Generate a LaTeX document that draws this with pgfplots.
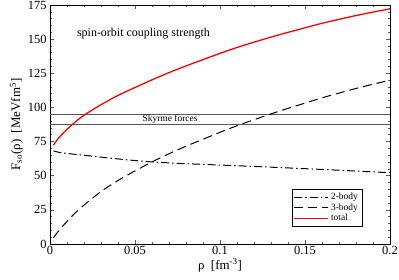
\documentclass[border=0pt]{standalone}
\usepackage{fontspec}
\setmainfont{Liberation Serif}
\usepackage{pgfplots}
\pgfplotsset{compat=1.18}
\pgfplotstableread{
x y
0.002 68.2
0.005 67.2
0.01 66.3
0.02 65.0
0.03 63.6
0.04 62.3
0.05 61.1
0.06 60.1
0.07 59.4
0.08 58.8
0.09 58.3
0.10 57.8
0.12 56.8
0.14 55.7
0.16 54.6
0.18 53.4
0.20 52.2
}\twobody
\pgfplotstableread{
x y
0.002 4.5
0.005 9.5
0.01 16.5
0.015 23
0.02 28.5
0.03 38.4
0.04 46.5
0.05 53.5
0.06 60.1
0.07 66.1
0.08 71.6
0.09 76.7
0.10 81.8
0.11 86.6
0.12 91
0.13 95.25
0.14 99.3
0.15 103.15
0.16 107
0.17 110.5
0.18 113.9
0.19 117
0.20 120
}\threebody
\pgfplotstableread{
x y
0.002 72.4
0.005 77.5
0.01 84
0.015 89.5
0.02 94.3
0.03 102
0.04 108.8
0.05 114.6
0.06 120.2
0.07 125.5
0.08 130.4
0.09 135
0.10 139.6
0.11 143.9
0.12 147.8
0.13 151.5
0.14 155
0.15 158.3
0.16 161.6
0.17 164.5
0.18 167.3
0.19 169.8
0.20 172.2
}\total
\begin{document}
\begin{tikzpicture}
\begin{axis}[
  name=ax,
  scale only axis,
  width=340bp, height=239bp,
  xmin=0, xmax=0.2, ymin=0, ymax=175,
  xtick={0,0.05,0.1,0.15,0.2},
  xticklabels={0,0.05,0.1,0.15,0.2},
  ytick={0,25,50,75,100,125,150,175},
  minor x tick num=4,
  minor y tick num=4,
  tick align=inside,
  major tick length=4bp,
  minor tick length=2bp,
  every tick/.style={gray!70!black, line width=0.6pt},
  axis line style={line width=0.8pt},
  /pgf/number format/assume math mode=true,
  tick label style={font=\fontsize{12.5}{14}\selectfont},
  xticklabel style={yshift=1bp},
  scaled x ticks=false,
  xlabel={ρ~~[fm\textsuperscript{-3}]},
  ylabel={F\textsubscript{so}(ρ)~~[MeVfm\textsuperscript{5}]},
  label style={font=\fontsize{13}{15}\selectfont},
  xlabel style={yshift=3bp},
  ylabel style={yshift=-2bp},
  legend style={at={(0.918,0.23)}, anchor=north east, draw=black, line width=0.5pt,
    font=\fontsize{9.5}{10}\selectfont, row sep=-1.5pt, inner sep=2pt, fill=white},
  legend cell align=left,
  legend image code/.code={\draw[#1] (0cm,0cm) -- (1.2cm,0cm);},
]
\addplot[gray!70!black, line width=0.7pt, forget plot] coordinates {(0,95) (0.2,95)};
\addplot[gray!70!black, line width=0.7pt, forget plot] coordinates {(0,87.5) (0.2,87.5)};
\addplot[black, line width=1pt, smooth, dash pattern=on 8bp off 3bp on 1.5bp off 3bp] table {\twobody};
\addlegendentry{2-body}
\addplot[black, line width=1pt, smooth, dash pattern=on 9bp off 5bp] table {\threebody};
\addlegendentry{3-body}
\addplot[red, line width=1.3pt, smooth] table {\total};
\addlegendentry{total}
\node[font=\fontsize{12}{14}\selectfont] at (axis cs:0.055,154) {spin-orbit coupling strength};
\node[font=\fontsize{9.5}{11}\selectfont] at (axis cs:0.0706,91.2) {Skyrme forces};
\end{axis}
\pgfresetboundingbox
\path ([xshift=-50bp,yshift=-36bp]ax.south west) rectangle ([xshift=9bp,yshift=5bp]ax.north east);
\end{tikzpicture}
\end{document}
